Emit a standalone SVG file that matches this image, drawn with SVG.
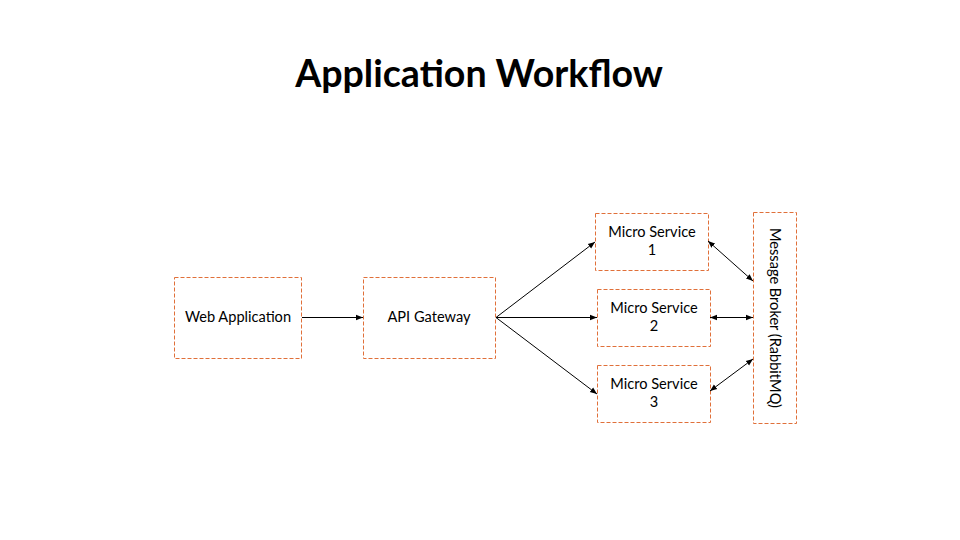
<svg xmlns="http://www.w3.org/2000/svg" width="960" height="540" viewBox="0 0 960 540">
<defs>
<marker id="ah" viewBox="0 0 10 10" refX="10" refY="5" markerWidth="7" markerHeight="7" markerUnits="userSpaceOnUse" orient="auto-start-reverse">
<path d="M0,1 L10,5 L0,9 z" fill="#000"/>
</marker>
</defs>
<style>
.box{fill:#fff;stroke:#e0703a;stroke-width:1;stroke-dasharray:4,2}
.lbl{font-family:Lato,"Liberation Sans",sans-serif;font-size:14.6px;fill:#000;text-anchor:middle}
.title{font-family:Lato,"Liberation Sans",sans-serif;font-size:37.6px;font-weight:700;fill:#000;text-anchor:middle}
.conn line{stroke:#000;stroke-width:1;fill:none}
</style>
<rect width="960" height="540" fill="#fff"/>
<text class="title" x="479" y="87">Application Workflow</text>
<g id="web"><rect class="box" x="174.5" y="277.5" width="127" height="81"/><text class="lbl" x="238" y="322">Web Application</text></g>
<g id="api"><rect class="box" x="363.5" y="277.5" width="132" height="81"/><text class="lbl" x="429" y="322">API Gateway</text></g>
<g id="ms1"><rect class="box" x="595.5" y="213.5" width="113" height="57"/><text class="lbl" x="652" y="237">Micro Service</text><text class="lbl" x="652" y="255">1</text></g>
<g id="ms2"><rect class="box" x="597.5" y="289.5" width="113" height="57"/><text class="lbl" x="654" y="313">Micro Service</text><text class="lbl" x="654" y="331">2</text></g>
<g id="ms3"><rect class="box" x="597.5" y="365.5" width="113" height="57"/><text class="lbl" x="654" y="389">Micro Service</text><text class="lbl" x="654" y="407">3</text></g>
<g id="broker"><rect class="box" x="753.5" y="212.5" width="43" height="211"/><text class="lbl" transform="translate(770,318) rotate(90)" x="0" y="0">Message Broker (RabbitMQ)</text></g>
<g id="connectors" class="conn">
<line x1="302" y1="317.5" x2="363" y2="317.5" marker-end="url(#ah)"/>
<line x1="496" y1="317.5" x2="595" y2="242" marker-end="url(#ah)"/>
<line x1="496" y1="317.5" x2="597" y2="317.5" marker-end="url(#ah)"/>
<line x1="496" y1="317.5" x2="597" y2="394" marker-end="url(#ah)"/>
<line x1="708" y1="241" x2="753" y2="281" marker-start="url(#ah)" marker-end="url(#ah)"/>
<line x1="710" y1="317.5" x2="753" y2="317.5" marker-start="url(#ah)" marker-end="url(#ah)"/>
<line x1="710" y1="391" x2="753" y2="359" marker-start="url(#ah)" marker-end="url(#ah)"/>
</g>
</svg>
